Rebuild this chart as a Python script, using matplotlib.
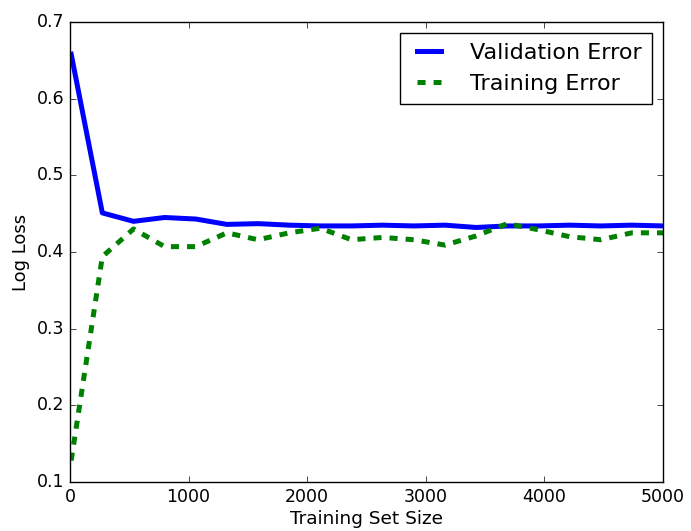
import matplotlib
matplotlib.use("Agg")
import matplotlib.pyplot as plt
import numpy as np

train_sizes = np.linspace(10, 5000, 20)
validation_error = [0.658, 0.451, 0.440, 0.445, 0.443, 0.436, 0.437, 0.435, 0.434, 0.434,
                    0.435, 0.434, 0.435, 0.432, 0.434, 0.434, 0.435, 0.434, 0.435, 0.434]
training_error = [0.128, 0.394, 0.430, 0.407, 0.407, 0.425, 0.416, 0.425, 0.431, 0.416,
                  0.419, 0.416, 0.409, 0.421, 0.437, 0.429, 0.420, 0.416, 0.425, 0.425]

plt.style.use('classic')
plt.rcParams['lines.scale_dashes'] = False

fig = plt.figure(figsize=(6.91, 5.31), dpi=100, facecolor='white')
ax = fig.add_axes([70/691, 49/531, 593/691, 460/531])
ax.plot(train_sizes, validation_error, color='blue', lw=3.6, label='Validation Error')
ax.plot(train_sizes, training_error, color='green', lw=3.6, dashes=(5.8, 5.8),
        dash_capstyle='butt', label='Training Error')
ax.set_xlim(0, 5000)
ax.set_ylim(0.1, 0.7)
ax.set_xticks([0, 1000, 2000, 3000, 4000, 5000])
ax.set_yticks([0.1, 0.2, 0.3, 0.4, 0.5, 0.6, 0.7])
ax.tick_params(labelsize=12.5, pad=4, direction='in', top=True, right=True)
ax.set_xlabel('Training Set Size', fontsize=13.3, labelpad=3)
ax.set_ylabel('Log Loss', fontsize=13)
leg = ax.legend(loc='upper right', fontsize=16, frameon=True, handlelength=1.7,
                handletextpad=1.0, labelspacing=0.5, borderpad=0.45, borderaxespad=0.5)
leg.get_frame().set_edgecolor('black')
fig.savefig('out.png', dpi=100, facecolor='white')
